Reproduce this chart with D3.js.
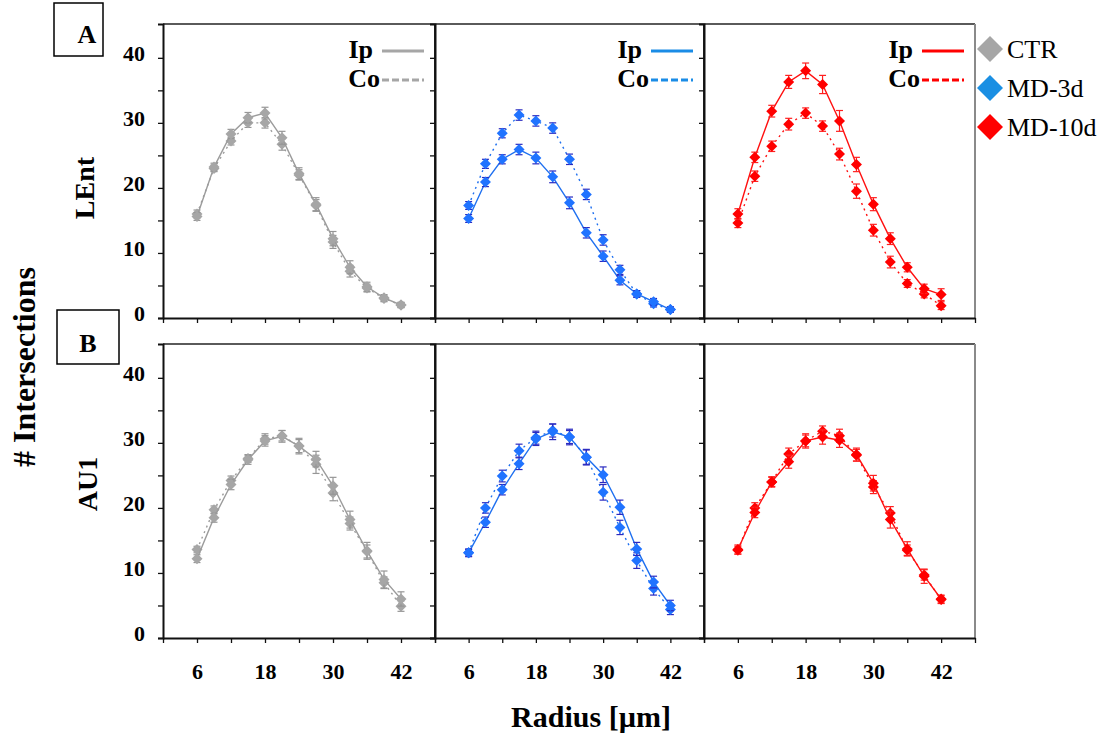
<!DOCTYPE html>
<html>
<head>
<meta charset="utf-8">
<script src="https://cdn.jsdelivr.net/npm/d3@7"></script>
<style>
  body { margin: 0; background: #fff; }
  svg { display: block; font-family: "Liberation Serif", "Times New Roman", serif; }
  .axis path, .axis line { stroke: #111; }
  .axis text { font-weight: bold; font-size: 22px; fill: #000; font-family: "Liberation Serif", serif; }
</style>
</head>
<body>
<svg id="chart" width="1101" height="735"></svg>
<script>
// Radius steps (µm)
const radius = [6, 9, 12, 15, 18, 21, 24, 27, 30, 33, 36, 39, 42];
const xTicks = [0, 6, 12, 18, 24, 30, 36, 42, 48];
const xLabels = [6, 18, 30, 42];
const yTicks = [0, 5, 10, 15, 20, 25, 30, 35, 40];
const yLabels = [0, 10, 20, 30, 40];
const groups = ["CTR", "MD-3d", "MD-10d"];
const regions = ["LEnt", "AU1"];
const boxLabels = ["A", "B"];

// LEnt
const lentCtrIp = [15.6, 23.2, 28.3, 30.8, 31.5, 27.7, 22.2, 17.5, 12.2, 7.8, 4.8, 3.1, 2.0];
const lentCtrCo = [16.0, 23.0, 27.2, 30.0, 30.0, 26.7, 22.0, 17.3, 11.7, 7.2, 4.6, 3.0, 2.0];
const lentMd3Ip = [15.3, 20.9, 24.4, 25.9, 24.6, 21.7, 17.7, 13.1, 9.5, 5.8, 3.7, 2.5, 1.3];
const lentMd3Co = [17.3, 23.7, 28.4, 31.2, 30.3, 29.2, 24.4, 19.0, 12.0, 7.4, 3.7, 2.2, 1.3];
const lentMd10Ip = [16.0, 24.7, 31.8, 36.3, 38.0, 35.9, 30.3, 23.6, 17.5, 12.2, 7.8, 4.5, 3.6];
const lentMd10Co = [14.6, 21.8, 26.4, 29.8, 31.5, 29.5, 25.2, 19.5, 13.5, 8.6, 5.3, 3.7, 1.9];

// AU1
const au1CtrIp = [12.2, 18.5, 23.6, 27.4, 30.3, 31.0, 29.5, 27.5, 23.4, 18.2, 13.4, 9.0, 6.0];
const au1CtrCo = [13.6, 19.7, 24.2, 27.6, 30.6, 31.1, 29.5, 26.7, 22.3, 17.6, 13.3, 8.5, 4.9];
const au1Md3Ip = [13.1, 17.8, 22.8, 26.8, 30.6, 31.7, 30.9, 27.8, 25.1, 20.1, 13.7, 8.6, 5.0];
const au1Md3Co = [13.1, 20.0, 24.9, 28.8, 30.8, 31.9, 30.9, 27.8, 22.4, 17.0, 11.9, 7.6, 4.4];
const au1Md10Ip = [13.6, 19.3, 24.0, 27.1, 30.3, 30.9, 30.4, 28.2, 23.8, 18.2, 13.7, 9.5, 6.0];
const au1Md10Co = [13.5, 20.0, 24.0, 28.3, 30.3, 31.8, 31.1, 28.1, 23.2, 19.2, 13.5, 9.7, 5.9];

// error bars (SEM)
const lentCtrIpErr = [0.6, 0.6, 0.7, 0.8, 0.9, 1.0, 0.9, 1.0, 1.1, 1.0, 0.7, 0.5, 0.4];
const lentCtrCoErr = [0.6, 0.5, 0.6, 0.7, 0.8, 0.9, 0.8, 0.9, 1.0, 0.9, 0.6, 0.5, 0.4];
const lentMd3IpErr = [0.6, 0.7, 0.7, 0.8, 0.9, 0.9, 0.9, 0.8, 0.8, 0.7, 0.5, 0.5, 0.4];
const lentMd3CoErr = [0.6, 0.7, 0.7, 0.8, 0.8, 0.8, 0.8, 0.8, 0.8, 0.7, 0.5, 0.5, 0.4];
const lentMd10IpErr = [0.8, 0.8, 0.9, 1.0, 1.2, 1.4, 1.6, 1.1, 1.0, 0.9, 0.7, 0.7, 0.9];
const lentMd10CoErr = [0.7, 0.8, 0.8, 0.9, 0.8, 0.8, 0.9, 1.1, 0.9, 0.9, 0.6, 0.6, 0.6];
const au1CtrIpErr = [0.6, 0.7, 0.8, 0.7, 0.8, 0.9, 1.2, 1.2, 1.3, 1.3, 1.3, 1.3, 1.1];
const au1CtrCoErr = [0.5, 0.6, 0.7, 0.6, 0.8, 0.8, 1.0, 1.4, 1.2, 1.0, 1.0, 0.9, 0.8];
const au1Md3IpErr = [0.6, 0.8, 0.8, 0.9, 1.0, 1.2, 1.2, 1.1, 1.2, 1.1, 1.0, 0.9, 0.8];
const au1Md3CoErr = [0.5, 0.8, 0.9, 1.0, 1.0, 1.0, 1.0, 1.2, 1.2, 1.1, 1.2, 1.0, 0.8];
const au1Md10IpErr = [0.7, 0.8, 0.8, 1.0, 1.1, 1.1, 1.1, 1.0, 1.2, 1.3, 1.1, 1.1, 0.6];
const au1Md10CoErr = [0.6, 0.8, 0.7, 0.9, 0.9, 0.8, 1.0, 0.9, 1.0, 1.0, 0.8, 0.8, 0.6];

const panelData = [
    [
        { ip: lentCtrIp, co: lentCtrCo, ipErr: lentCtrIpErr, coErr: lentCtrCoErr },
        { ip: lentMd3Ip, co: lentMd3Co, ipErr: lentMd3IpErr, coErr: lentMd3CoErr },
        { ip: lentMd10Ip, co: lentMd10Co, ipErr: lentMd10IpErr, coErr: lentMd10CoErr }
    ],
    [
        { ip: au1CtrIp, co: au1CtrCo, ipErr: au1CtrIpErr, coErr: au1CtrCoErr },
        { ip: au1Md3Ip, co: au1Md3Co, ipErr: au1Md3IpErr, coErr: au1Md3CoErr },
        { ip: au1Md10Ip, co: au1Md10Co, ipErr: au1Md10IpErr, coErr: au1Md10CoErr }
    ]
];

// colours per group
const markColor = ["#a6a6a6", "#2073ff", "#ff0000"];
const lineColor = ["#9c9c9c", "#1f70f0", "#ff1010"];
const errColor = ["#969696", "#2a2ac0", "#ff2020"];
const legLineColor = ["#a6a6a6", "#1a8ce6", "#ff0000"];
const legMarkColor = ["#a6a6a6", "#1a8fe3", "#ff0000"];

const svg = d3.select("#chart");

const colEdges = [163, 435, 704, 975];
const rowTops = [24, 344];
const rowBottoms = [318, 638];

const diamond = (r) => `M0,${-r}L${r},0L0,${r}L${-r},0Z`;

regions.forEach((region, row) => {
    const yScale = d3.scaleLinear()
        .domain([0, 45.2])
        .range([rowBottoms[row], rowTops[row]]);

    groups.forEach((grp, col) => {
        const xScale = d3.scaleLinear()
            .domain([0, 48])
            .range([colEdges[col], colEdges[col + 1]]);

        const g = svg.append("g");

        // frame: top + right
        g.append("line")
            .attr("x1", colEdges[col]).attr("x2", colEdges[col + 1])
            .attr("y1", rowTops[row]).attr("y2", rowTops[row])
            .attr("stroke", "#5a5a5a").attr("stroke-width", 2);
        g.append("line")
            .attr("x1", colEdges[col + 1]).attr("x2", colEdges[col + 1])
            .attr("y1", rowTops[row]).attr("y2", rowBottoms[row])
            .attr("stroke", col === 2 ? "#8a8a8a" : "#222").attr("stroke-width", 2);

        // y axis
        const yAxis = d3.axisLeft(yScale)
            .tickValues(yTicks)
            .tickSize(5)
            .tickPadding(13)
            .tickFormat((d) => (col === 0 && yLabels.includes(d)) ? d : "");
        const ya = g.append("g")
            .attr("class", "axis")
            .attr("transform", `translate(${colEdges[col]},0)`)
            .call(yAxis);
        ya.select(".domain").attr("stroke-width", 2).attr("stroke", "#111");
        ya.selectAll("line").attr("stroke-width", 1.3);
        ya.selectAll("text").attr("dy", "0.1em");

        // x axis
        const xAxis = d3.axisBottom(xScale)
            .tickValues(xTicks)
            .tickSize(5)
            .tickSizeOuter(0)
            .tickPadding(20)
            .tickFormat((d) => (row === 1 && xLabels.includes(d)) ? d : "");
        const xa = g.append("g")
            .attr("class", "axis")
            .attr("transform", `translate(0,${rowBottoms[row]})`)
            .call(xAxis);
        xa.select(".domain").attr("stroke-width", 2).attr("stroke", "#111");
        xa.selectAll("line").attr("stroke-width", 1.3);

        const d = panelData[row][col];
        const series = [
            { vals: d.co, err: d.coErr, dash: "2,4" },
            { vals: d.ip, err: d.ipErr, dash: null }
        ];

        series.forEach((s) => {
            const pts = radius.map((r, i) => ({ r: r, v: s.vals[i], e: s.err[i] }));

            const line = d3.line()
                .x((p) => xScale(p.r))
                .y((p) => yScale(p.v));

            g.append("path")
                .datum(pts)
                .attr("d", line)
                .attr("fill", "none")
                .attr("stroke", lineColor[col])
                .attr("stroke-width", 1.4)
                .attr("stroke-dasharray", s.dash);

            // error bars
            const eb = g.append("g")
                .attr("stroke", errColor[col])
                .attr("stroke-width", 1.2);
            eb.selectAll("line.v")
                .data(pts)
                .enter()
                .append("line")
                .attr("x1", (p) => xScale(p.r))
                .attr("x2", (p) => xScale(p.r))
                .attr("y1", (p) => yScale(p.v - p.e))
                .attr("y2", (p) => yScale(p.v + p.e));
            [1, -1].forEach((sign) => {
                eb.selectAll(null)
                    .data(pts)
                    .enter()
                    .append("line")
                    .attr("x1", (p) => xScale(p.r) - 3.5)
                    .attr("x2", (p) => xScale(p.r) + 3.5)
                    .attr("y1", (p) => yScale(p.v + sign * p.e))
                    .attr("y2", (p) => yScale(p.v + sign * p.e));
            });

            g.selectAll(null)
                .data(pts)
                .enter()
                .append("path")
                .attr("d", diamond(5.5))
                .attr("transform", (p) => `translate(${xScale(p.r)},${yScale(p.v)})`)
                .attr("fill", markColor[col]);
        });

        // Ip / Co legend in top row
        if (row === 0) {
            const lx0 = colEdges[col + 1] - 53;
            const lx1 = colEdges[col + 1] - 11;
            [["Ip", 51, null], ["Co", 80, "7,3"]].forEach(([lab, ly, dash]) => {
                g.append("line")
                    .attr("x1", lx0).attr("x2", lx1)
                    .attr("y1", ly).attr("y2", ly)
                    .attr("stroke", legLineColor[col])
                    .attr("stroke-width", 3)
                    .attr("stroke-dasharray", dash);
                g.append("text")
                    .attr("x", lab === "Ip" ? lx0 - 9 : lx0 - 2)
                    .attr("y", ly + 7)
                    .attr("text-anchor", "end")
                    .attr("font-size", 26)
                    .attr("font-weight", "bold")
                    .text(lab);
            });
        }
    });

    // row label
    svg.append("text")
        .attr("transform", `translate(${row === 0 ? 94 : 97},${row === 0 ? 188 : 484}) rotate(-90)`)
        .attr("text-anchor", "middle")
        .attr("font-size", 28)
        .attr("font-weight", "bold")
        .text(region);
});

// A / B boxes
const boxes = [
    { x: 54, y: 3, w: 49, h: 53, tx: 87, ty: 43 },
    { x: 57, y: 310, w: 62, h: 54, tx: 88, ty: 352 }
];
boxes.forEach((b, i) => {
    svg.append("rect")
        .attr("x", b.x).attr("y", b.y)
        .attr("width", b.w).attr("height", b.h)
        .attr("fill", "none")
        .attr("stroke", "#000")
        .attr("stroke-width", 1.5);
    svg.append("text")
        .attr("x", b.tx).attr("y", b.ty)
        .attr("text-anchor", "middle")
        .attr("font-size", 26)
        .attr("font-weight", "bold")
        .text(boxLabels[i]);
});

// group legend on the right
groups.forEach((grp, i) => {
    const cy = 49 + i * 39;
    svg.append("path")
        .attr("d", diamond(13))
        .attr("transform", `translate(990,${cy})`)
        .attr("fill", legMarkColor[i]);
    svg.append("text")
        .attr("x", 1007)
        .attr("y", cy + 9)
        .attr("font-size", 26)
        .text(grp);
});

// axis titles
svg.append("text")
    .attr("transform", "translate(35,367) rotate(-90)")
    .attr("text-anchor", "middle")
    .attr("font-size", 32)
    .attr("font-weight", "bold")
    .text("# Intersections");

svg.append("text")
    .attr("x", 591)
    .attr("y", 727)
    .attr("text-anchor", "middle")
    .attr("font-size", 30)
    .attr("font-weight", "bold")
    .text("Radius [µm]");
</script>
</body>
</html>
